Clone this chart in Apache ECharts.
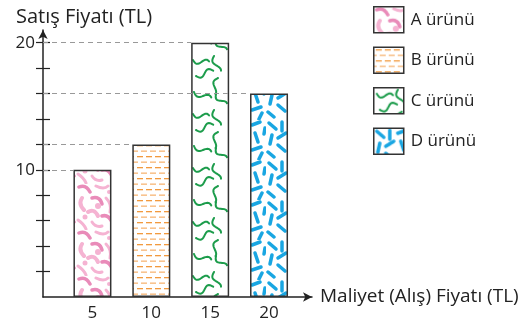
<!DOCTYPE html>
<html>
<head>
<meta charset="utf-8">
<script src="https://cdn.jsdelivr.net/npm/echarts@6/dist/echarts.min.js"></script>
<style>
html,body{margin:0;padding:0;background:#fff;}
#main{width:529px;height:324px;}
</style>
</head>
<body>
<div id="main"></div>
<script>
// veriler
var productNames = ['A ürünü', 'B ürünü', 'C ürünü', 'D ürünü'];
var costValues = [5, 10, 15, 20];      // Maliyet (x)
var priceValues = [10, 12, 20, 16];    // Satış fiyatı (y)
var yTickValues = [2, 4, 6, 8, 10, 12, 14, 16, 18, 20];
var yLabelValues = [10, 20];
var xLabelValues = [5, 10, 15, 20];

var FONT = '"Open Sans", "Noto Sans", sans-serif';
var xMin = 0.8, xMax = 23.65;
var gridLeft = 43, gridRight = 217;
var barW = 38;

// desen dokulari
function makeCanvas(w, h) {
    var c = document.createElement('canvas');
    c.width = w; c.height = h;
    var ctx = c.getContext('2d');
    ctx.fillStyle = '#fff';
    ctx.fillRect(0, 0, w, h);
    return c;
}
function pinkPattern() {
    var c = makeCanvas(38, 46), ctx = c.getContext('2d');
    ctx.lineCap = 'round';
    var strokes = [
        [3,3,10,0,14,8,3.5], [20,2,28,6,32,2,3], [6,14,2,20,8,26,4], [16,14,24,12,26,20,3.5],
        [30,14,36,20,34,28,3], [12,28,18,24,22,32,4], [26,32,32,30,36,38,3.5], [2,36,8,40,10,45,3],
        [16,38,20,44,26,42,3]
    ];
    strokes.forEach(function (s, i) {
        ctx.strokeStyle = i % 3 === 0 ? '#e98bb9' : '#f5b3d2';
        ctx.lineWidth = s[6];
        ctx.beginPath();
        ctx.moveTo(s[0], s[1]);
        ctx.quadraticCurveTo(s[2], s[3], s[4], s[5]);
        ctx.stroke();
    });
    ctx.fillStyle = '#f5b3d2';
    [[22,22,3],[9,33,2.5],[33,8,2]].forEach(function (d) {
        ctx.beginPath(); ctx.arc(d[0], d[1], d[2], 0, Math.PI * 2); ctx.fill();
    });
    return c;
}
function orangePattern() {
    var c = makeCanvas(18, 11), ctx = c.getContext('2d');
    ctx.fillStyle = '#f29a3e';
    ctx.fillRect(2, 2, 6, 1.3);
    ctx.fillRect(11, 2, 6, 1.3);
    ctx.fillStyle = '#f7b676';
    ctx.fillRect(6, 7.5, 6, 1.3);
    ctx.fillRect(15, 7.5, 3, 1.3);
    ctx.fillRect(0, 7.5, 3, 1.3);
    return c;
}
function squiggle(ctx, x0, y0, ang, len, amp, waves) {
    var ca = Math.cos(ang), sa = Math.sin(ang);
    ctx.beginPath();
    for (var t = 0; t <= 20; t++) {
        var u = t / 20 * len;
        var v = amp * Math.sin(t / 20 * waves * Math.PI * 2);
        var px = x0 + u * ca - v * sa, py = y0 + u * sa + v * ca;
        if (t === 0) ctx.moveTo(px, py); else ctx.lineTo(px, py);
    }
    ctx.stroke();
}
function greenPattern() {
    var c = makeCanvas(38, 54), ctx = c.getContext('2d');
    ctx.strokeStyle = '#1c9c4b';
    ctx.lineWidth = 2;
    ctx.lineCap = 'round';
    ctx.lineJoin = 'round';
    squiggle(ctx, 3, 6, 0.2, 16, 3, 0.9);
    squiggle(ctx, 24, 2, 1.3, 16, 3, 0.8);
    squiggle(ctx, 6, 22, -0.3, 18, 3, 1);
    squiggle(ctx, 28, 24, 1.9, 16, 3, 0.8);
    squiggle(ctx, 4, 38, 0.4, 18, 3, 0.9);
    squiggle(ctx, 26, 40, 0.9, 14, 3, 0.8);
    return c;
}
function bluePattern() {
    var c = makeCanvas(38, 40), ctx = c.getContext('2d');
    ctx.strokeStyle = '#19a6e2';
    ctx.lineWidth = 3.5;
    ctx.lineCap = 'round';
    var segs = [
        [3,3,10,9],[16,2,16,11],[24,5,32,2],[6,15,4,24],[12,18,20,13],
        [27,13,30,22],[12,25,19,31],[24,30,33,27],[2,32,8,37],[34,33,31,39],[36,14,37,8]
    ];
    segs.forEach(function (s) {
        ctx.beginPath();
        ctx.moveTo(s[0], s[1]);
        ctx.lineTo(s[2], s[3]);
        ctx.stroke();
    });
    return c;
}
var patterns = [pinkPattern(), orangePattern(), greenPattern(), bluePattern()];

var chart = echarts.init(document.getElementById('main'));
var unitPx = (529 - gridLeft - gridRight) / (xMax - xMin);
var halfBar = barW / 2 / unitPx;

var series = productNames.map(function (name, i) {
    return {
        name: name,
        type: 'bar',
        barWidth: barW,
        barGap: '-100%',
        data: [[costValues[i], priceValues[i]]],
        itemStyle: {
            color: { image: patterns[i], repeat: 'repeat' },
            borderColor: '#333',
            borderWidth: 1.5
        },
        markLine: {
            silent: true,
            symbol: 'none',
            label: { show: false },
            lineStyle: { color: '#999', type: [5, 4], width: 1 },
            data: [[
                { coord: [xMin, priceValues[i]] },
                { coord: [costValues[i] - halfBar, priceValues[i]] }
            ]]
        }
    };
});

var option = {
    animation: false,
    title: {
        text: 'Satış Fiyatı (TL)',
        left: 11,
        top: 2,
        textStyle: { fontFamily: FONT, fontSize: 20, fontWeight: 'normal', color: '#222' }
    },
    legend: {
        orient: 'vertical',
        left: 373,
        top: 6,
        padding: 0,
        itemWidth: 30,
        itemHeight: 26,
        itemGap: 13,
        icon: 'path://M0 0H30V26H0Z',
        data: productNames,
        itemStyle: { borderColor: '#333', borderWidth: 1.5 },
        textStyle: { fontFamily: FONT, fontSize: 17, color: '#222', padding: [0, 0, 0, 2] }
    },
    grid: { left: gridLeft, right: gridRight, top: 30, bottom: 27 },
    xAxis: {
        type: 'value',
        min: xMin,
        max: xMax,
        name: 'Maliyet (Alış) Fiyatı (TL)',
        nameLocation: 'end',
        nameGap: 8,
        nameTextStyle: { fontFamily: FONT, fontSize: 19, color: '#222' },
        splitLine: { show: false },
        axisTick: { show: false },
        axisLine: { lineStyle: { color: '#222', width: 1.5 }, symbol: ['none', 'arrow'], symbolSize: [7, 9] },
        axisLabel: { customValues: xLabelValues, fontFamily: FONT, fontSize: 17, color: '#222', margin: 8 }
    },
    yAxis: [{
        type: 'value',
        min: 0,
        max: 21,
        splitLine: { show: false },
        axisLine: { show: true, lineStyle: { color: '#222', width: 1.5 }, symbol: ['none', 'arrow'], symbolSize: [7, 9] },
        axisTick: { show: true, customValues: yTickValues, length: 7, lineStyle: { color: '#222', width: 1.2 } },
        axisLabel: { customValues: yLabelValues, fontFamily: FONT, fontSize: 17, color: '#222', margin: 8 }
    }, {
        type: 'value',
        min: 0,
        max: 21,
        position: 'left',
        splitLine: { show: false },
        axisLine: { show: false },
        axisTick: { show: true, inside: true, customValues: yTickValues, length: 7, lineStyle: { color: '#222', width: 1.2 } },
        axisLabel: { show: false }
    }],
    series: series
};

chart.setOption(option);
</script>
</body>
</html>
